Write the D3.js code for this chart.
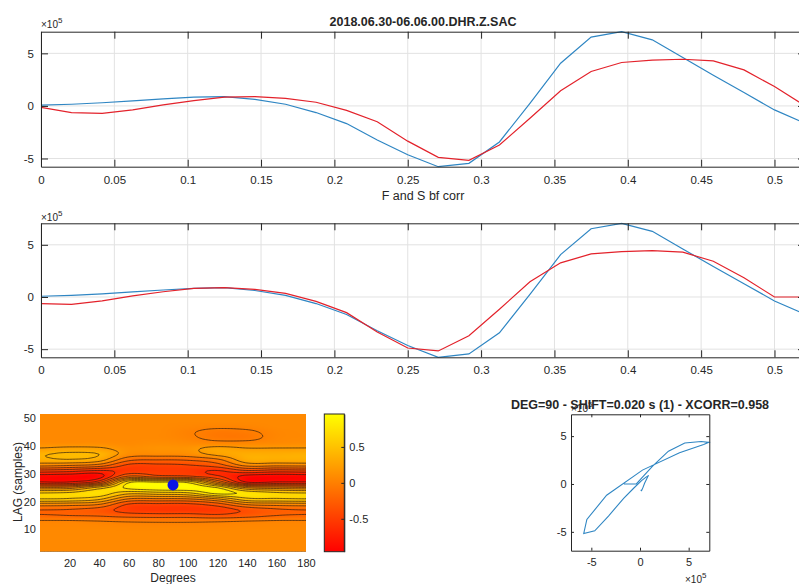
<!DOCTYPE html>
<html><head><meta charset="utf-8">
<script src="https://cdn.jsdelivr.net/npm/d3@7"></script>
<style>
body{margin:0;background:#fff;overflow:hidden;}
svg text{font-family:"Liberation Sans",Arial,sans-serif;fill:#262626;}
</style></head><body>
<svg id="chart" width="799" height="584" xmlns="http://www.w3.org/2000/svg"></svg>
<script>
// ---------------- data ----------------
const titleTop = "2018.06.30-06.06.00.DHR.Z.SAC";
const xLabelTop = "F and S bf corr";
const times = [0,0.0208,0.0417,0.0625,0.0833,0.1042,0.125,0.1458,0.1667,0.1875,0.2083,0.2292,0.25,0.2708,0.2917,0.3125,0.3333,0.3542,0.375,0.3958,0.4167,0.4375,0.4583,0.4792,0.5,0.5208];
// amplitudes in units of 1e5
const traceFast = [0.07,0.16,0.30,0.48,0.67,0.83,0.89,0.62,0.16,-0.63,-1.68,-3.24,-4.65,-5.78,-5.46,-3.43,0.25,4.06,6.54,7.06,6.29,4.60,2.92,1.27,-0.38,-1.65];
const traceSlowBefore = [-0.13,-0.63,-0.70,-0.38,0.10,0.50,0.83,0.89,0.72,0.35,-0.42,-1.50,-3.35,-4.89,-5.17,-3.71,-1.17,1.45,3.27,4.13,4.35,4.44,4.29,3.43,1.84,0.02];
const traceSlowAfter = [-0.63,-0.70,-0.38,0.10,0.50,0.83,0.89,0.72,0.35,-0.42,-1.50,-3.35,-4.89,-5.17,-3.71,-1.17,1.45,3.27,4.13,4.35,4.44,4.29,3.43,1.84,0.00,0.00];
const timeTicks = [0,0.05,0.1,0.15,0.2,0.25,0.3,0.35,0.4,0.45,0.5];
const ampTicks = [-5,0,5];
const ampDomain = [-5.78,7.06];
const timeDomain = [0,0.5208];

// cross-correlation map: rows = lag (samples), one array per rotation degree
const degrees = [0,20,40,60,80,100,120,140,160,180];
const lags = [1,3,5,7,9,11,13,15,17,19,21,23,25,27,29,31,33,35,37,39,41,43,45,47,49,51];
const corrDeg0   = [.07,.07,.07,.07,.07,.06,.02,-.18,-.2,.1,.6,.62,.05,-.78,-.9,-.5,.05,.34,.38,.22,.1,.07,.07,.07,.07,.07];
const corrDeg20  = [.07,.07,.07,.07,.07,.06,.02,-.2,-.22,.08,.58,.65,.1,-.78,-.92,-.55,0,.38,.45,.26,.1,.07,.07,.07,.07,.07];
const corrDeg40  = [.07,.07,.07,.07,.07,.06,0,-.22,-.3,0,.45,.72,.5,-.45,-.88,-.65,-.1,.28,.4,.24,.1,.07,.07,.07,.07,.07];
const corrDeg60  = [.07,.07,.07,.07,.07,.05,-.02,-.28,-.5,-.42,0,.45,.85,.75,-.15,-.52,-.45,-.15,.1,.12,.08,.07,.07,.07,.07,.07];
const corrDeg80  = [.07,.07,.07,.07,.07,.05,-.03,-.3,-.55,-.45,-.02,.5,.95,.8,-.3,-.5,-.45,-.2,.08,.14,.1,.07,.07,.07,.07,.07];
const corrDeg100 = [.07,.07,.07,.07,.07,.05,-.03,-.3,-.55,-.45,0,.55,.95,.75,-.35,-.52,-.42,-.18,.1,.15,.08,.03,.02,.05,.07,.07];
const corrDeg120 = [.07,.07,.07,.07,.07,.05,-.02,-.35,-.52,-.3,.2,.85,.8,0,-.55,-.62,-.3,-.05,.25,.27,.06,-.05,-.05,.03,.07,.07];
const corrDeg140 = [.07,.07,.07,.07,.07,.06,0,-.28,-.35,.02,.55,.75,.2,-.8,-.88,-.45,.05,.32,.34,.22,.06,-.05,-.03,.04,.07,.07];
const corrDeg160 = [.07,.07,.07,.07,.07,.06,.02,-.2,-.24,.08,.58,.65,.1,-.78,-.92,-.52,.04,.33,.34,.22,.08,.05,.05,.07,.07,.07];
const corrDeg180 = [.07,.07,.07,.07,.07,.06,.02,-.18,-.2,.1,.6,.62,.05,-.78,-.9,-.5,.05,.34,.36,.22,.1,.07,.07,.07,.07,.07];
const contourLevels = [-0.8,-0.6,-0.4,-0.2,0,0.2,0.4,0.6,0.8];
const colorRange = [-0.958,0.958];
const colorbarTicks = [-0.5,0,0.5];
const degTicks = [20,40,60,80,100,120,140,160,180];
const lagTicks = [10,20,30,40,50];
const bestDeg = 90, bestLag = 26;
const pmTitle = "DEG=90 - SHIFT=0.020 s (1) - XCORR=0.958";
const pmTicks = [-5,0,5];

// ---------------- helpers ----------------
const svg = d3.select("#chart");
const BLUE = "#2f86c3", RED = "#e3222b", AX = "#262626";

function styleAxis(g, fs){
  g.attr("font-family",null).attr("font-size",null);
  g.selectAll(".domain").attr("stroke",AX);
  g.selectAll(".tick line").attr("stroke",AX);
  g.selectAll("text").attr("font-size",fs).attr("fill",AX);
}
function boxAxes(g, x, y, xt, yt, o){
  const [xa,xb] = x.range(), [ya,yb] = y.range();
  if(o.grid){
    const gg = g.append("g");
    gg.selectAll(".gx").data(xt).join("line").attr("x1",d=>x(d)).attr("x2",d=>x(d)).attr("y1",yb).attr("y2",ya).attr("stroke","#e2e2e2");
    gg.selectAll(".gy").data(yt).join("line").attr("y1",d=>y(d)).attr("y2",d=>y(d)).attr("x1",xa).attr("x2",xb).attr("stroke","#e2e2e2");
  }
  return function(){
    const tl=o.tick;
    styleAxis(g.append("g").attr("transform",`translate(0,${ya})`).call(d3.axisBottom(x).tickValues(xt).tickSizeInner(-tl).tickSizeOuter(0).tickPadding(o.xpad).tickFormat(String)),o.fs);
    styleAxis(g.append("g").attr("transform",`translate(0,${yb})`).call(d3.axisTop(x).tickValues(xt).tickSizeInner(-tl).tickSizeOuter(0).tickFormat("")),o.fs);
    styleAxis(g.append("g").attr("transform",`translate(${xa},0)`).call(d3.axisLeft(y).tickValues(yt).tickSizeInner(-tl).tickSizeOuter(0).tickPadding(o.ypad).tickFormat(String)),o.fs);
    styleAxis(g.append("g").attr("transform",`translate(${xb},0)`).call(d3.axisRight(y).tickValues(yt).tickSizeInner(-tl).tickSizeOuter(0).tickFormat("")),o.fs);
  };
}
function expLabel(x,y){
  const t = svg.append("text").attr("x",x).attr("y",y).attr("font-size",10).attr("fill","#444");
  t.append("tspan").text("\u00d710");
  t.append("tspan").attr("dy",-5).attr("font-size",8).text("5");
}

// ---------------- waveform panels ----------------
function wavePanel(top, bottom, slow, id){
  const x = d3.scaleLinear().domain(timeDomain).range([41,805]);
  const y = d3.scaleLinear().domain(ampDomain).range([bottom,top]);
  const g = svg.append("g");
  const finish = boxAxes(g,x,y,timeTicks,ampTicks,{grid:true,tick:7,xpad:9,ypad:7,fs:11.5});
  svg.append("clipPath").attr("id",id).append("rect").attr("x",41).attr("y",top-1).attr("width",764).attr("height",bottom-top+2);
  const line = d3.line().x((d,i)=>x(times[i])).y(d=>y(d));
  g.append("path").datum(traceFast).attr("d",line).attr("fill","none").attr("stroke",BLUE).attr("stroke-width",1.2).attr("clip-path",`url(#${id})`);
  g.append("path").datum(slow).attr("d",line).attr("fill","none").attr("stroke",RED).attr("stroke-width",1.2).attr("clip-path",`url(#${id})`);
  finish();
  return x;
}
const xTop = wavePanel(31.7,166.7,traceSlowBefore,"c1");
wavePanel(223.3,357.3,traceSlowAfter,"c2");
expLabel(41,28); expLabel(41,221);
svg.append("text").attr("x",(xTop.range()[0]+xTop.range()[1])/2).attr("y",26).attr("text-anchor","middle").attr("font-size",12.5).attr("font-weight","bold").attr("fill","#111").text(titleTop);
svg.append("text").attr("x",(xTop.range()[0]+xTop.range()[1])/2).attr("y",200).attr("text-anchor","middle").attr("font-size",12.5).text(xLabelTop);

// ---------------- correlation map ----------------
const grid = [corrDeg0,corrDeg20,corrDeg40,corrDeg60,corrDeg80,corrDeg100,corrDeg120,corrDeg140,corrDeg160,corrDeg180];
const degIdx = d3.scaleLinear().domain([degrees[0],degrees[degrees.length-1]]).range([0,degrees.length-1]).clamp(true);
const lagIdx = d3.scaleLinear().domain([lags[0],lags[lags.length-1]]).range([0,lags.length-1]).clamp(true);
function cr(p0,p1,p2,p3,t){const t2=t*t,t3=t2*t;return 0.5*(2*p1+(-p0+p2)*t+(2*p0-5*p1+4*p2-p3)*t2+(-p0+3*p1-3*p2+p3)*t3);}
function cell(ci,ri){ci=Math.max(0,Math.min(degrees.length-1,ci));ri=Math.max(0,Math.min(lags.length-1,ri));return grid[ci][ri];}
function sample(deg,lag){
  const u=degIdx(deg), v=lagIdx(lag);
  const ci=Math.min(Math.floor(u),degrees.length-2), ri=Math.min(Math.floor(v),lags.length-2);
  const tu=u-ci, tv=v-ri;
  const col=[-1,0,1,2].map(k=>cr(cell(ci+k,ri-1),cell(ci+k,ri),cell(ci+k,ri+1),cell(ci+k,ri+2),tv));
  return cr(col[0],col[1],col[2],col[3],tu);
}
const xH = d3.scaleLinear().domain([0,180]).range([40,306]);
const yH = d3.scaleLinear().domain([2,51.5]).range([551.7,414]);
const cmap = d3.scaleLinear().domain(colorRange).range(["#ff0000","#ffff00"]).clamp(true);
{
  const x0=xH(0),x1=xH(180),y0=yH(51.5),y1=yH(2);
  const W=Math.round(x1-x0),H=Math.round(y1-y0);
  const cv=document.createElement("canvas");cv.width=W;cv.height=H;
  const ctx=cv.getContext("2d");const img=ctx.createImageData(W,H);
  for(let j=0;j<H;j++){for(let i=0;i<W;i++){
    const deg=xH.invert(x0+(i+0.5)*(x1-x0)/W), lag=yH.invert(y0+(j+0.5)*(y1-y0)/H);
    const c=d3.rgb(cmap(sample(deg,lag)));const k=(j*W+i)*4;
    img.data[k]=c.r;img.data[k+1]=c.g;img.data[k+2]=c.b;img.data[k+3]=255;}}
  ctx.putImageData(img,0,0);
  svg.append("image").attr("x",x0).attr("y",y0).attr("width",x1-x0).attr("height",y1-y0).attr("preserveAspectRatio","none").attr("href",cv.toDataURL());
  // contours
  const nx=181, ny=100, dl=0.5;
  const vals=new Array(nx*ny);
  for(let j=0;j<ny;j++)for(let i=0;i<nx;i++)vals[j*nx+i]=sample(i,2+j*dl);
  const cs=d3.contours().size([nx,ny]).thresholds(contourLevels)(vals);
  svg.append("clipPath").attr("id","cH").append("rect").attr("x",x0).attr("y",y0).attr("width",x1-x0).attr("height",y1-y0);
  const proj=d3.geoTransform({point(px,py){this.stream.point(xH(px-0.5),yH(2+(py-0.5)*dl));}});
  const path=d3.geoPath(proj);
  svg.append("g").attr("clip-path","url(#cH)").selectAll("path").data(cs).join("path").attr("d",path).attr("fill","none").attr("stroke","#2a1a10").attr("stroke-opacity",0.85).attr("stroke-width",0.8);
  svg.append("circle").attr("cx",xH(bestDeg)).attr("cy",yH(bestLag)).attr("r",5.5).attr("fill","#0a14e6");
  const ga=svg.append("g");
  styleAxis(ga.append("g").attr("transform",`translate(0,${y1})`).call(d3.axisBottom(xH).tickValues(degTicks).tickSize(0).tickPadding(8).tickFormat(String)),11);
  styleAxis(ga.append("g").attr("transform",`translate(${x0},0)`).call(d3.axisLeft(yH).tickValues(lagTicks).tickSize(0).tickPadding(4).tickFormat(String)),11);
  ga.selectAll(".domain").remove();
  svg.append("text").attr("x",xH(90)).attr("y",581.5).attr("text-anchor","middle").attr("font-size",12).text("Degrees");
  svg.append("text").attr("transform","translate(22,482) rotate(-90)").attr("text-anchor","middle").attr("font-size",12).text("LAG (samples)");
}
// colorbar
{
  const yC=d3.scaleLinear().domain(colorRange).range([551.7,414]);
  const defs=svg.append("defs");
  const lg=defs.append("linearGradient").attr("id","cbg").attr("x1",0).attr("y1",1).attr("x2",0).attr("y2",0);
  lg.append("stop").attr("offset",0).attr("stop-color",cmap(colorRange[0]));
  lg.append("stop").attr("offset",1).attr("stop-color",cmap(colorRange[1]));
  svg.append("rect").attr("x",324.3).attr("y",414).attr("width",20).attr("height",137.7).attr("fill","url(#cbg)").attr("stroke",AX).attr("stroke-width",1);
  styleAxis(svg.append("g").attr("transform","translate(344.3,0)").call(d3.axisRight(yC).tickValues(colorbarTicks).tickSizeInner(-3).tickSizeOuter(0).tickPadding(5).tickFormat(String)),11);
}

// ---------------- particle motion ----------------
{
  const xP=d3.scaleLinear().domain([-7.09,7.12]).range([571,709.3]);
  const yP=d3.scaleLinear().domain([-6.97,7.28]).range([550.7,414.3]);
  const g=svg.append("g");
  const finish=boxAxes(g,xP,yP,pmTicks,pmTicks,{grid:false,tick:3,xpad:8,ypad:4.5,fs:11});
  const line=d3.line().x(d=>xP(traceFast[d])).y(d=>yP(traceSlowAfter[d]));
  g.append("path").datum(d3.range(traceFast.length)).attr("d",line).attr("fill","none").attr("stroke",BLUE).attr("stroke-width",1.1);
  finish();
  expLabel(571,412);
  svg.append("text").attr("x",640).attr("y",409).attr("text-anchor","middle").attr("font-size",12.5).attr("font-weight","bold").attr("fill","#111").text(pmTitle);
  expLabel(685,583);
}
</script></body></html>
